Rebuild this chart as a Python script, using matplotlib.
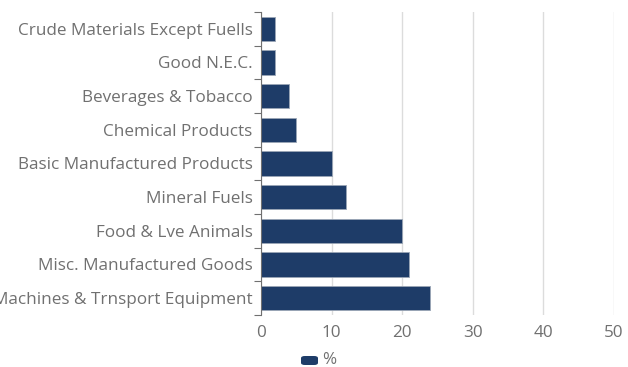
import matplotlib
matplotlib.use("Agg")
import matplotlib.pyplot as plt
from matplotlib.patches import FancyBboxPatch

plt.rcParams['font.family'] = ['Open Sans', 'DejaVu Sans']

categories = [
    "Crude Materials Except Fuells",
    "Good N.E.C.",
    "Beverages & Tobacco",
    "Chemical Products",
    "Basic Manufactured Products",
    "Mineral Fuels",
    "Food & Lve Animals",
    "Misc. Manufactured Goods",
    "Machines & Trnsport Equipment",
]
values = [2, 2, 4, 5, 10, 12, 20, 21, 24]
series_name = "%"
x_ticks = [0, 10, 20, 30, 40, 50]

W, H = 628, 367
fig = plt.figure(figsize=(W / 100, H / 100), dpi=100)
ax = fig.add_axes([261 / W, 1 - 315 / H, (614 - 261) / W, (315 - 12) / H])

bar_color = "#1e3c68"
text_color = "#707070"
axis_color = "#707070"
grid_color = "#dcdcdc"
fs = 12.3

pos = list(range(len(categories)))
ax.barh(pos, values, height=0.72, color=bar_color, edgecolor="#9aa6b6",
        linewidth=0.6, zorder=3)

ax.set_xlim(0, 50)
ax.set_ylim(len(categories) - 0.5, -0.5)
ax.set_xticks(x_ticks)
ax.set_xticklabels([str(t) for t in x_ticks])
ax.set_yticks(pos)
ax.set_yticklabels(categories)

# category-boundary ticks on the y axis
ax.set_yticks([p - 0.5 for p in pos] + [len(categories) - 0.5], minor=True)
ax.tick_params(axis="y", which="major", length=0, pad=6,
               labelsize=fs, labelcolor=text_color)
ax.tick_params(axis="y", which="minor", length=5, color=axis_color, width=0.8)
ax.tick_params(axis="x", length=0, pad=7, labelsize=fs, labelcolor=text_color)

ax.grid(axis="x", color=grid_color, linewidth=1, zorder=0)
for side in ["top", "right", "bottom"]:
    ax.spines[side].set_visible(False)
ax.spines["left"].set_color(axis_color)
ax.spines["left"].set_linewidth(0.8)
ax.spines["left"].set_zorder(4)

# legend marker and label
leg = FancyBboxPatch((301 / W, 1 - 365 / H), 17 / W, 9 / H,
                     boxstyle="round,pad=0,rounding_size=0.006",
                     transform=fig.transFigure, facecolor=bar_color,
                     edgecolor="none")
fig.patches.append(leg)
fig.text(322 / W, 1 - 360 / H, series_name, color=text_color, fontsize=fs,
         va="center", ha="left")

fig.savefig("out.png", dpi=100)
